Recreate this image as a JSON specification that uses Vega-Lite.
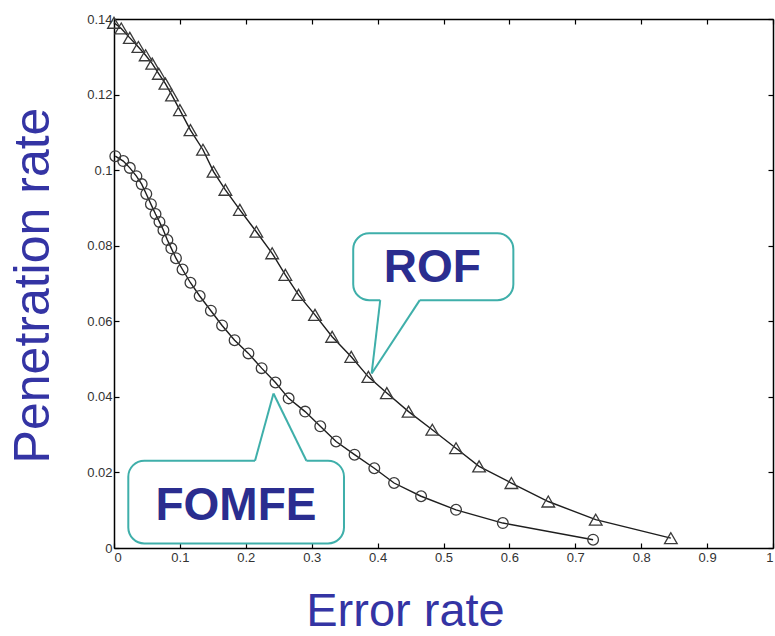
{
  "$schema": "https://vega.github.io/schema/vega-lite/v6.json",
  "width": 659,
  "height": 529,
  "autosize": "none",
  "padding": {"left": 114, "top": 19, "right": 2, "bottom": 88},
  "background": "white",
  "config": {
    "view": {"stroke": null},
    "font": "Liberation Sans",
    "axis": {
      "domainColor": "#000",
      "domainWidth": 1.5,
      "tickColor": "#000",
      "tickWidth": 1.2,
      "tickSize": -5,
      "grid": false,
      "labelFont": "Liberation Sans",
      "labelFontSize": 13,
      "labelColor": "#333",
      "titleFont": "Liberation Sans",
      "titleColor": "#3434A4",
      "titleFontWeight": "normal"
    }
  },
  "datasets": {
    "curves": [
      {"series": "ROF", "error": 0.000, "pen": 0.1390},
      {"series": "ROF", "error": 0.011, "pen": 0.1375},
      {"series": "ROF", "error": 0.024, "pen": 0.1350},
      {"series": "ROF", "error": 0.037, "pen": 0.1326},
      {"series": "ROF", "error": 0.048, "pen": 0.1304},
      {"series": "ROF", "error": 0.058, "pen": 0.1282},
      {"series": "ROF", "error": 0.068, "pen": 0.1255},
      {"series": "ROF", "error": 0.078, "pen": 0.1229},
      {"series": "ROF", "error": 0.088, "pen": 0.1198},
      {"series": "ROF", "error": 0.100, "pen": 0.1159},
      {"series": "ROF", "error": 0.116, "pen": 0.1106},
      {"series": "ROF", "error": 0.135, "pen": 0.1054},
      {"series": "ROF", "error": 0.151, "pen": 0.0996},
      {"series": "ROF", "error": 0.169, "pen": 0.0948},
      {"series": "ROF", "error": 0.191, "pen": 0.0895},
      {"series": "ROF", "error": 0.216, "pen": 0.0837},
      {"series": "ROF", "error": 0.240, "pen": 0.0780},
      {"series": "ROF", "error": 0.260, "pen": 0.0723},
      {"series": "ROF", "error": 0.280, "pen": 0.0670},
      {"series": "ROF", "error": 0.305, "pen": 0.0617},
      {"series": "ROF", "error": 0.331, "pen": 0.0559},
      {"series": "ROF", "error": 0.360, "pen": 0.0506},
      {"series": "ROF", "error": 0.386, "pen": 0.0453},
      {"series": "ROF", "error": 0.414, "pen": 0.0410},
      {"series": "ROF", "error": 0.447, "pen": 0.0361},
      {"series": "ROF", "error": 0.483, "pen": 0.0313},
      {"series": "ROF", "error": 0.519, "pen": 0.0264},
      {"series": "ROF", "error": 0.554, "pen": 0.0216},
      {"series": "ROF", "error": 0.603, "pen": 0.0172},
      {"series": "ROF", "error": 0.659, "pen": 0.0123},
      {"series": "ROF", "error": 0.731, "pen": 0.0075},
      {"series": "ROF", "error": 0.845, "pen": 0.0026},
      {"series": "FOMFE", "error": 0.002, "pen": 0.1037},
      {"series": "FOMFE", "error": 0.014, "pen": 0.1024},
      {"series": "FOMFE", "error": 0.024, "pen": 0.1006},
      {"series": "FOMFE", "error": 0.034, "pen": 0.0984},
      {"series": "FOMFE", "error": 0.042, "pen": 0.0963},
      {"series": "FOMFE", "error": 0.049, "pen": 0.0937},
      {"series": "FOMFE", "error": 0.056, "pen": 0.0910},
      {"series": "FOMFE", "error": 0.063, "pen": 0.0884},
      {"series": "FOMFE", "error": 0.069, "pen": 0.0863},
      {"series": "FOMFE", "error": 0.075, "pen": 0.0841},
      {"series": "FOMFE", "error": 0.081, "pen": 0.0815},
      {"series": "FOMFE", "error": 0.087, "pen": 0.0793},
      {"series": "FOMFE", "error": 0.094, "pen": 0.0767},
      {"series": "FOMFE", "error": 0.104, "pen": 0.0737},
      {"series": "FOMFE", "error": 0.116, "pen": 0.0702},
      {"series": "FOMFE", "error": 0.130, "pen": 0.0667},
      {"series": "FOMFE", "error": 0.147, "pen": 0.0628},
      {"series": "FOMFE", "error": 0.164, "pen": 0.0589},
      {"series": "FOMFE", "error": 0.183, "pen": 0.0550},
      {"series": "FOMFE", "error": 0.204, "pen": 0.0515},
      {"series": "FOMFE", "error": 0.224, "pen": 0.0476},
      {"series": "FOMFE", "error": 0.245, "pen": 0.0438},
      {"series": "FOMFE", "error": 0.265, "pen": 0.0396},
      {"series": "FOMFE", "error": 0.290, "pen": 0.0361},
      {"series": "FOMFE", "error": 0.313, "pen": 0.0322},
      {"series": "FOMFE", "error": 0.337, "pen": 0.0282},
      {"series": "FOMFE", "error": 0.365, "pen": 0.0247},
      {"series": "FOMFE", "error": 0.395, "pen": 0.0211},
      {"series": "FOMFE", "error": 0.425, "pen": 0.0172},
      {"series": "FOMFE", "error": 0.466, "pen": 0.0137},
      {"series": "FOMFE", "error": 0.519, "pen": 0.0101},
      {"series": "FOMFE", "error": 0.590, "pen": 0.0066},
      {"series": "FOMFE", "error": 0.727, "pen": 0.0022}
    ],
    "callouts": [
      {"label": "ROF", "left": 0.363, "right": 0.606, "bottom": 0.0656, "top": 0.0833, "cx": 0.483, "cy": 0.0705, "baseX1": 0.404, "baseX2": 0.464, "baseY": 0.0656, "tipX": 0.391, "tipY": 0.0462},
      {"label": "FOMFE", "left": 0.0217, "right": 0.349, "bottom": 0.0012, "top": 0.0231, "cx": 0.185, "cy": 0.0074, "baseX1": 0.214, "baseX2": 0.292, "baseY": 0.0231, "tipX": 0.242, "tipY": 0.0409}
    ]
  },
  "layer": [
    {
      "data": {"name": "curves"},
      "mark": {"type": "line", "color": "#1e1e1e", "strokeWidth": 1.4},
      "encoding": {
        "x": {
          "field": "error", "type": "quantitative",
          "scale": {"domain": [0, 1], "nice": false, "zero": false},
          "axis": {
            "orient": "bottom",
            "title": "Error rate",
            "values": [0, 0.1, 0.2, 0.3, 0.4, 0.5, 0.6, 0.7, 0.8, 0.9, 1],
            "format": "~g",
            "labelPadding": 8,
            "titleFontSize": 47,
            "titleX": 291,
            "titleY": 77,
            "titleBaseline": "alphabetic",
            "titleAlign": "center"
          }
        },
        "y": {
          "field": "pen", "type": "quantitative",
          "scale": {"domain": [0, 0.14], "nice": false, "zero": false},
          "axis": {
            "orient": "left",
            "title": "Penetration rate",
            "values": [0, 0.02, 0.04, 0.06, 0.08, 0.1, 0.12, 0.14],
            "format": "~g",
            "labelPadding": 7,
            "titleFontSize": 50,
            "titleAngle": -90,
            "titleX": -66,
            "titleY": 266,
            "titleBaseline": "alphabetic",
            "titleAlign": "center"
          }
        },
        "detail": {"field": "series", "type": "nominal"}
      }
    },
    {
      "data": {"name": "curves"},
      "mark": {"type": "point", "filled": false, "stroke": "#3a3a3a", "strokeWidth": 1.3, "opacity": 1},
      "encoding": {
        "x": {
          "field": "error", "type": "quantitative",
          "axis": {"orient": "top", "title": null, "labels": false, "values": [0, 0.1, 0.2, 0.3, 0.4, 0.5, 0.6, 0.7, 0.8, 0.9, 1]}
        },
        "y": {
          "field": "pen", "type": "quantitative",
          "axis": {"orient": "right", "title": null, "labels": false, "values": [0, 0.02, 0.04, 0.06, 0.08, 0.1, 0.12, 0.14]}
        },
        "shape": {
          "field": "series", "type": "nominal",
          "scale": {"domain": ["ROF", "FOMFE"], "range": ["triangle-up", "circle"]},
          "legend": null
        },
        "size": {
          "field": "series", "type": "nominal",
          "scale": {"domain": ["ROF", "FOMFE"], "range": [160, 115]},
          "legend": null
        }
      }
    },
    {
      "data": {"name": "callouts"},
      "mark": {"type": "rect", "fill": "white", "stroke": "#3FAFAA", "strokeWidth": 2, "cornerRadius": 16},
      "encoding": {
        "x": {"field": "left", "type": "quantitative", "axis": null},
        "x2": {"field": "right"},
        "y": {"field": "bottom", "type": "quantitative", "axis": null},
        "y2": {"field": "top"}
      }
    },
    {
      "data": {"name": "callouts"},
      "mark": {"type": "rule", "color": "white", "strokeWidth": 4},
      "encoding": {
        "x": {"field": "baseX1", "type": "quantitative", "axis": null},
        "x2": {"field": "baseX2"},
        "y": {"field": "baseY", "type": "quantitative", "axis": null},
        "y2": {"field": "baseY"}
      }
    },
    {
      "data": {"name": "callouts"},
      "mark": {"type": "rule", "color": "#3FAFAA", "strokeWidth": 2},
      "encoding": {
        "x": {"field": "baseX1", "type": "quantitative", "axis": null},
        "x2": {"field": "tipX"},
        "y": {"field": "baseY", "type": "quantitative", "axis": null},
        "y2": {"field": "tipY"}
      }
    },
    {
      "data": {"name": "callouts"},
      "mark": {"type": "rule", "color": "#3FAFAA", "strokeWidth": 2},
      "encoding": {
        "x": {"field": "baseX2", "type": "quantitative", "axis": null},
        "x2": {"field": "tipX"},
        "y": {"field": "baseY", "type": "quantitative", "axis": null},
        "y2": {"field": "tipY"}
      }
    },
    {
      "data": {"name": "callouts"},
      "mark": {"type": "text", "font": "Liberation Sans", "fontWeight": "bold", "fontSize": 46, "color": "#2A2D8F", "align": "center", "baseline": "alphabetic"},
      "encoding": {
        "x": {"field": "cx", "type": "quantitative", "axis": null},
        "y": {"field": "cy", "type": "quantitative", "axis": null},
        "text": {"field": "label", "type": "nominal"}
      }
    }
  ],
  "resolve": {"axis": {"x": "independent", "y": "independent"}}
}
